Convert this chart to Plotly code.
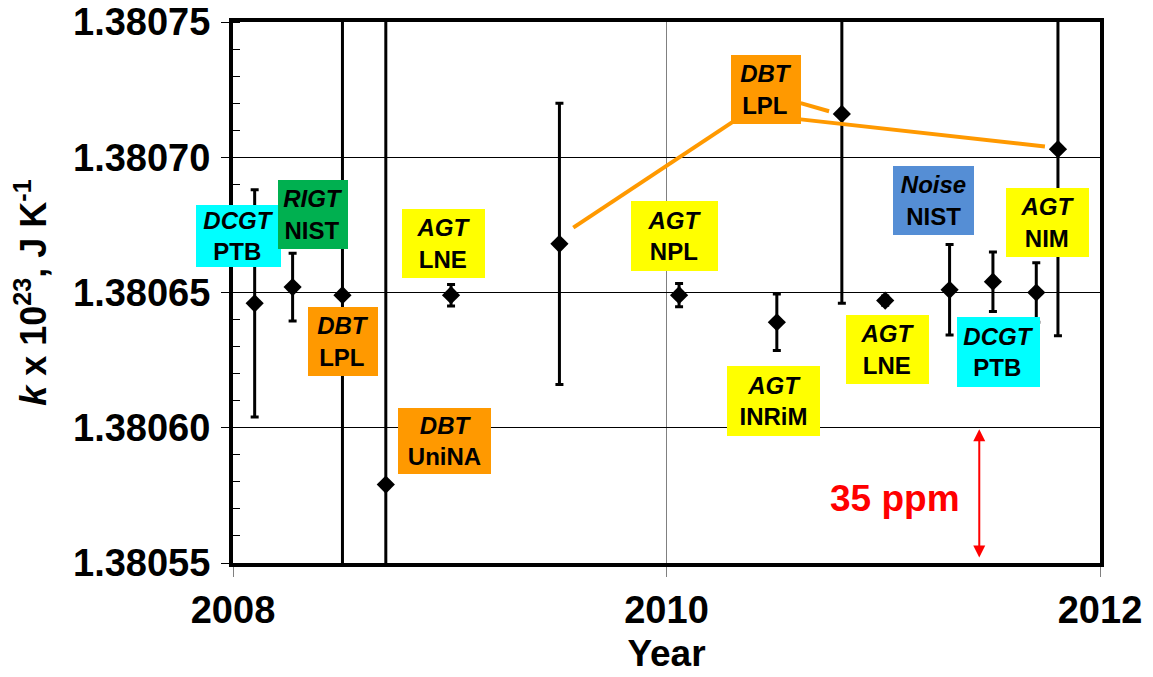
import plotly.graph_objects as go

# ---- data ----
years = [2008.100, 2008.275, 2008.505, 2008.705, 2009.006, 2009.506, 2010.058,
         2010.509, 2010.809, 2011.009, 2011.306, 2011.506, 2011.706, 2011.806]
k_values = [1.380646, 1.380652, 1.380649, 1.380579, 1.380649, 1.380668, 1.380649,
            1.380639, 1.380716, 1.380647, 1.380651, 1.380654, 1.380650, 1.380703]
k_unc = [0.000042, 0.0000125, 0.00026, 0.00022, 0.000004, 0.000052, 0.0000043,
         0.0000104, 0.000070, 0.0000017, 0.0000167, 0.000011, 0.000011, 0.000069]

methods = ["DCGT", "RIGT", "DBT", "AGT", "DBT", "AGT", "AGT", "DBT",
           "Noise", "AGT", "AGT", "DCGT"]
institutes = ["PTB", "NIST", "LPL", "LNE", "UniNA", "NPL", "INRiM", "LPL",
              "NIST", "NIM", "LNE", "PTB"]

# ---- label layout (box centre in data units, box size in px, colour) ----
label_x = [2008.025, 2008.369, 2008.5075, 2008.971, 2008.976, 2010.037, 2010.494,
           2010.459, 2011.232, 2011.758, 2011.020, 2011.532]
label_y = [1.380671, 1.380679, 1.380632, 1.380668, 1.380595, 1.380671, 1.380610,
           1.380725, 1.380684, 1.380676, 1.380629, 1.380628]
label_w = [85, 70, 70, 83, 93, 87, 93, 70, 81, 83, 83, 83]
label_h = [62, 69, 69, 69, 66, 70, 70, 69, 69, 69, 69, 70]
label_c = ["#00FFFF", "#00B050", "#FF9900", "#FFFF00", "#FF9900", "#FFFF00", "#FFFF00",
           "#FF9900", "#558ED5", "#FFFF00", "#FFFF00", "#00FFFF"]

# connector lines from the upper DBT/LPL label (x0, y0, x1, y1)
connectors = [
    (2009.570, 1.380674, 2010.304, 1.380713),
    (2010.619, 1.380720, 2010.750, 1.380717),
    (2010.619, 1.380714, 2011.746, 1.380704),
]

FONT = "Liberation Sans, Arial, sans-serif"

fig = go.Figure()
fig.add_trace(go.Scatter(
    x=years, y=k_values, mode="markers",
    marker=dict(symbol="diamond", size=14, color="black"),
    error_y=dict(type="data", array=k_unc, visible=True, color="black",
                 thickness=3, width=4),
    showlegend=False, hoverinfo="x+y",
))

shapes = []
for x0, y0, x1, y1 in connectors:
    shapes.append(dict(type="line", xref="x", yref="y", x0=x0, y0=y0, x1=x1, y1=y1,
                       line=dict(color="#FF9900", width=4), layer="above"))

annotations = []
for m, inst, x, y, w, h, c in zip(methods, institutes, label_x, label_y,
                                  label_w, label_h, label_c):
    annotations.append(dict(
        x=x, y=y, xref="x", yref="y", showarrow=False,
        text=f"<b><i>{m}</i></b><br><b>{inst}</b>",
        font=dict(family=FONT, size=24, color="black"),
        bgcolor=c, width=w, height=h, borderpad=0, borderwidth=0,
        align="center", valign="middle", xanchor="center", yanchor="middle",
    ))

annotations.append(dict(
    x=2011.054, y=1.380574, xref="x", yref="y", showarrow=False,
    text="<b>35 ppm</b>", font=dict(family=FONT, size=37, color="#FF0000"),
))
annotations.append(dict(
    x=2011.443, y=1.380552, ax=2011.443, ay=1.380600, xref="x", yref="y",
    axref="x", ayref="y", text="", showarrow=True, arrowside="end+start",
    arrowhead=2, arrowsize=1.2, arrowwidth=2, arrowcolor="#FF0000",
    standoff=0, startstandoff=0,
))

fig.update_layout(
    width=1153, height=677, autosize=False,
    margin=dict(l=225, r=61, t=14, b=122),
    paper_bgcolor="white", plot_bgcolor="white",
    font=dict(family=FONT, color="black"),
    shapes=shapes, annotations=annotations,
    xaxis=dict(
        range=[2008, 2012], tick0=2008, dtick=2, tickformat="d", automargin=False,
        ticks="outside", ticklen=10, tickwidth=1, tickcolor="#808080",
        showline=True, linewidth=4, linecolor="black", mirror=True,
        showgrid=True, gridcolor="#808080", gridwidth=1, zeroline=False,
        ticklabeloverflow="allow",
        tickfont=dict(family=FONT, size=38, color="black", weight="bold"),
        title=dict(text="<b>Year</b>", font=dict(family=FONT, size=37, color="black"),
                   standoff=12),
    ),
    yaxis=dict(
        range=[1.38055, 1.38075], tick0=1.38055, dtick=0.00005, tickformat=".5f",
        automargin=False, ticklabeloverflow="allow",
        ticks="outside", ticklen=8, tickwidth=1, tickcolor="black",
        showline=True, linewidth=4, linecolor="black", mirror=True,
        showgrid=True, gridcolor="black", gridwidth=1, zeroline=False,
        ticklabelstandoff=3,
        tickfont=dict(family=FONT, size=38, color="black", weight="bold"),
        minor=dict(dtick=0.00001, ticks="inside", ticklen=7, tickcolor="black",
                   tickwidth=1, showgrid=False),
        title=dict(text="<b><i>k</i> x 10<sup>23</sup>, J K<sup>-1</sup></b>",
                   font=dict(family=FONT, size=36, color="black"), standoff=22),
    ),
)

fig.write_html("out.html")
